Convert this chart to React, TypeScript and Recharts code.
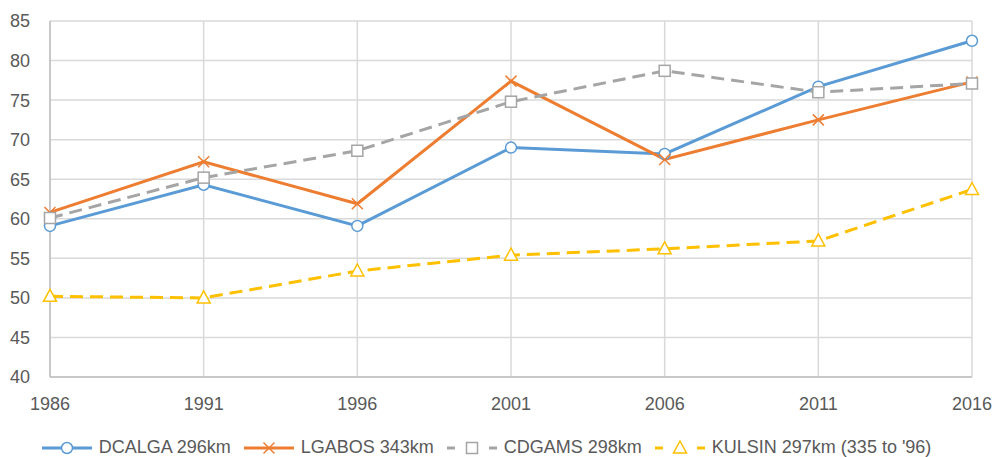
import React from "react"
import { CartesianGrid, Legend, Line, LineChart, XAxis, YAxis } from "recharts"

const years = ["1986", "1991", "1996", "2001", "2006", "2011", "2016"]
const dcalga = [59.1, 64.3, 59.1, 69.0, 68.2, 76.7, 82.5]
const lgabos = [60.8, 67.2, 61.9, 77.4, 67.5, 72.5, 77.3]
const cdgams = [60.1, 65.2, 68.6, 74.8, 78.7, 76.0, 77.1]
const kulsin = [50.2, 50.0, 53.4, 55.4, 56.2, 57.2, 63.7]
const yTicks = [40, 45, 50, 55, 60, 65, 70, 75, 80, 85]

const data = years.map((year, i) => ({
  year,
  dcalga: dcalga[i],
  lgabos: lgabos[i],
  cdgams: cdgams[i],
  kulsin: kulsin[i],
}))

const FONT = "'Liberation Sans', Arial, sans-serif"
const TEXT = "#595959"

type Shape = "circle" | "cross" | "square" | "triangle"

const series = [
  { key: "dcalga", name: "DCALGA 296km", color: "#5B9BD5", dash: undefined, shape: "circle" as Shape },
  { key: "lgabos", name: "LGABOS 343km", color: "#ED7D31", dash: undefined, shape: "cross" as Shape },
  { key: "cdgams", name: "CDGAMS 298km", color: "#A5A5A5", dash: "13 7", shape: "square" as Shape },
  { key: "kulsin", name: "KULSIN 297km (335 to '96)", color: "#FFC000", dash: "13 7", shape: "triangle" as Shape },
]

function Marker({ cx, cy, color, shape }: { cx: number; cy: number; color: string; shape: Shape }) {
  if (shape === "circle") {
    return <circle cx={cx} cy={cy} r={5.5} fill="#fff" stroke={color} strokeWidth={1.5} />
  }
  if (shape === "cross") {
    const s = 5.5
    return (
      <g stroke={color} strokeWidth={1.5}>
        <line x1={cx - s} y1={cy - s} x2={cx + s} y2={cy + s} />
        <line x1={cx - s} y1={cy + s} x2={cx + s} y2={cy - s} />
      </g>
    )
  }
  if (shape === "square") {
    return <rect x={cx - 5.5} y={cy - 5.5} width={11} height={11} fill="#fff" stroke={color} strokeWidth={1.5} />
  }
  return (
    <path
      d={`M${cx},${cy - 7} L${cx + 6.5},${cy + 5} L${cx - 6.5},${cy + 5} Z`}
      fill="#fff"
      stroke={color}
      strokeWidth={1.5}
    />
  )
}

function makeDot(color: string, shape: Shape) {
  return (props: any) => {
    const { cx, cy, index } = props
    if (cx == null || cy == null) return <g key={index} />
    return <Marker key={index} cx={cx} cy={cy} color={color} shape={shape} />
  }
}

// legend row: a short line sample with the marker centred on it
function ChartLegend() {
  return (
    <div style={{ display: "flex", justifyContent: "center", gap: 12, fontFamily: FONT, fontSize: 18, color: TEXT }}>
      {series.map((s) => (
        <div key={s.key} style={{ display: "flex", alignItems: "center", gap: 6 }}>
          <svg width={52} height={16}>
            {s.dash ? (
              <g stroke={s.color} strokeWidth={3}>
                <line x1={1} y1={8} x2={9} y2={8} />
                <line x1={43} y1={8} x2={51} y2={8} />
              </g>
            ) : (
              <line x1={1} y1={8} x2={51} y2={8} stroke={s.color} strokeWidth={3} />
            )}
            <Marker cx={26} cy={8} color={s.color} shape={s.shape} />
          </svg>
          <span>{s.name}</span>
        </div>
      ))}
    </div>
  )
}

export default function App() {
  return (
    <div style={{ position: "absolute", left: 0, top: 0, background: "#fff" }}>
      <LineChart width={994} height={457} data={data} margin={{ top: 21, right: 22, bottom: 0, left: 0 }}>
        <CartesianGrid stroke="#D9D9D9" strokeWidth={1.5} />
        <XAxis
          dataKey="year"
          scale="point"
          padding={{ left: 0, right: 0 }}
          height={60}
          tickLine={false}
          tickSize={0}
          tickMargin={20}
          stroke="#BFBFBF"
          strokeWidth={1.5}
          tick={{ fill: TEXT, fontSize: 18, fontFamily: FONT }}
        />
        <YAxis
          domain={[40, 85]}
          ticks={yTicks}
          interval={0}
          width={50}
          tickLine={false}
          tickSize={0}
          tickMargin={20}
          stroke="#BFBFBF"
          strokeWidth={1.5}
          tick={{ fill: TEXT, fontSize: 18, fontFamily: FONT }}
        />
        <Legend verticalAlign="bottom" height={20} content={() => <ChartLegend />} />
        {series.map((s) => (
          <Line
            key={s.key}
            dataKey={s.key}
            name={s.name}
            stroke={s.color}
            strokeWidth={3}
            strokeDasharray={s.dash}
            dot={makeDot(s.color, s.shape)}
            activeDot={false}
            isAnimationActive={false}
          />
        ))}
      </LineChart>
    </div>
  )
}
